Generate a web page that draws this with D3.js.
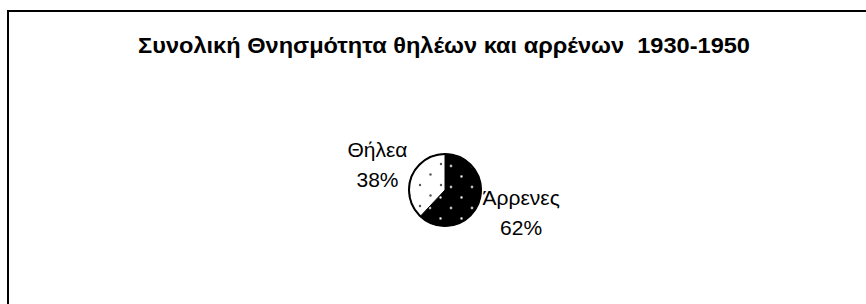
<!DOCTYPE html>
<html>
<head>
<meta charset="utf-8">
<script src="https://cdn.jsdelivr.net/npm/d3@7"></script>
<style>
  html, body { margin: 0; padding: 0; background: #fff; }
  svg { display: block; font-family: "Liberation Sans", Arial, sans-serif; }
  .title { white-space: pre; }
</style>
</head>
<body>
<svg id="chart" width="866" height="304"></svg>
<script>
const title = "Συνολική Θνησμότητα θηλέων και αρρένων  1930-1950";
const categories = ["Άρρενες", "Θήλεα"];
const values = [62, 38];
const percentLabels = ["62%", "38%"];

const width = 866, height = 304;
const cx = 445, cy = 190, radius = 36;

const svg = d3.select("#chart");

// frame, only top and left edges fall inside the window
svg.append("rect")
  .attr("x", 8).attr("y", 11)
  .attr("width", 900).attr("height", 400)
  .attr("fill", "#fff")
  .attr("stroke", "#000")
  .attr("stroke-width", 2);

svg.append("text")
  .attr("class", "title")
  .attr("x", 444).attr("y", 53)
  .attr("text-anchor", "middle")
  .attr("font-weight", "bold")
  .attr("font-size", 22.5)
  .attr("textLength", 612)
  .attr("lengthAdjust", "spacingAndGlyphs")
  .attr("fill", "#000")
  .text(title);

// dotted fills
const defs = svg.append("defs");
const dark = defs.append("pattern")
  .attr("id", "dotsDark")
  .attr("patternUnits", "userSpaceOnUse")
  .attr("width", 21).attr("height", 21)
  .attr("x", cx + 2).attr("y", cy - 4);
dark.append("rect").attr("width", 21).attr("height", 21).attr("fill", "#000");
[[0, 0], [10.5, 10.5], [21, 0], [0, 21], [21, 21]].forEach(([x, y]) => {
  dark.append("circle").attr("cx", x).attr("cy", y).attr("r", 1.4).attr("fill", "#999");
  dark.append("circle").attr("cx", x).attr("cy", y).attr("r", 0.7).attr("fill", "#fff");
});

const light = defs.append("pattern")
  .attr("id", "dotsLight")
  .attr("patternUnits", "userSpaceOnUse")
  .attr("width", 21).attr("height", 21)
  .attr("x", cx - 8).attr("y", cy - 6);
light.append("rect").attr("width", 21).attr("height", 21).attr("fill", "#fff");
[[0, 0], [10.5, 10.5], [21, 0], [0, 21], [21, 21]].forEach(([x, y]) => {
  light.append("circle").attr("cx", x).attr("cy", y).attr("r", 1.2).attr("fill", "#555");
});

const fills = ["url(#dotsDark)", "url(#dotsLight)"];

const pie = d3.pie().sort(null).value(d => d);
const arcs = pie(values);
const arcGen = d3.arc().innerRadius(0).outerRadius(radius);

const g = svg.append("g").attr("transform", `translate(${cx},${cy})`);

g.selectAll("path")
  .data(arcs)
  .enter()
  .append("path")
  .attr("d", arcGen)
  .attr("fill", (d, i) => fills[i])
  .attr("stroke", "#000")
  .attr("stroke-width", 1);

g.append("circle")
  .attr("r", radius)
  .attr("fill", "none")
  .attr("stroke", "#000")
  .attr("stroke-width", 2);

// labels sit outside the slice, pushed sideways by their own width
const labelR = 64;
const labels = g.selectAll("text.lbl")
  .data(arcs)
  .enter()
  .append("text")
  .attr("class", "lbl")
  .attr("text-anchor", "middle")
  .attr("font-size", 21)
  .attr("fill", "#000");

labels.append("tspan")
  .attr("x", 0).attr("y", -9)
  .text((d, i) => categories[i]);
labels.append("tspan")
  .attr("x", 0).attr("y", 21)
  .text((d, i) => percentLabels[i]);

labels.attr("transform", function (d) {
  const p = d3.pointRadial((d.startAngle + d.endAngle) / 2, labelR);
  const w = this.getBBox().width;
  const dx = Math.sign(p[0]) * (w / 2 - 22);
  return `translate(${p[0] + dx},${p[1]})`;
});
</script>
</body>
</html>
